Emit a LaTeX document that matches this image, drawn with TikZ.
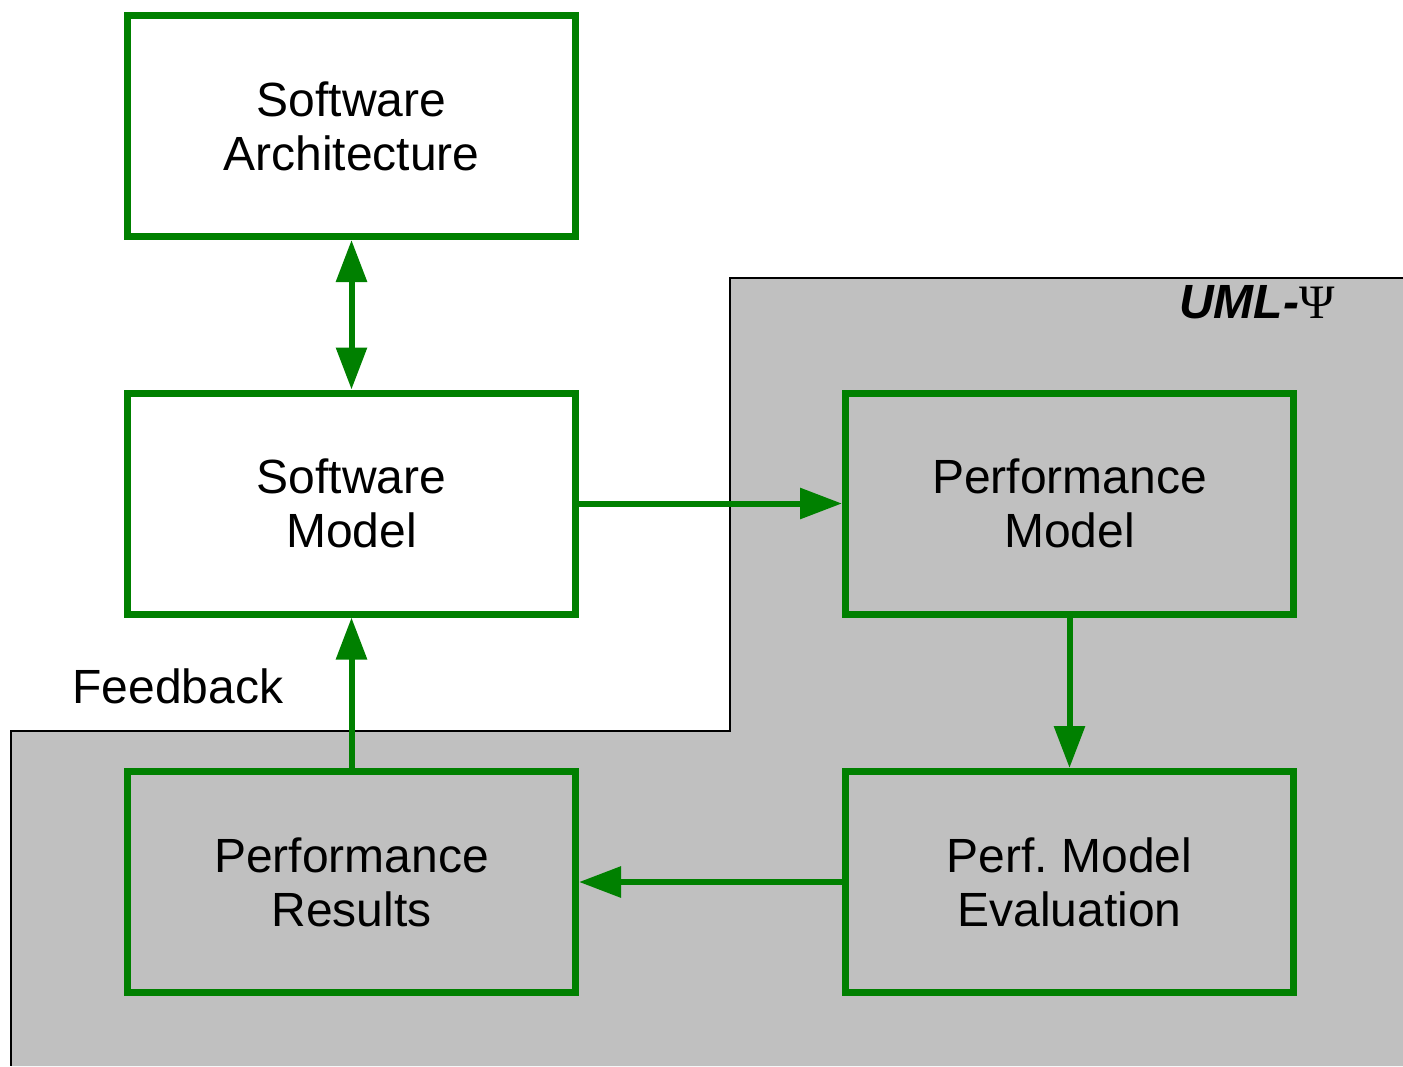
\documentclass[tikz,border=0pt]{standalone}
\usepackage{fontspec}
\setmainfont{Liberation Sans}
\newfontfamily\greekserif{Liberation Serif}
\usetikzlibrary{arrows.meta}
\definecolor{boxgreen}{RGB}{0,128,0}
\definecolor{regiongrey}{RGB}{192,192,192}
\frenchspacing
\tikzset{
  stagebox/.style={draw=boxgreen, line width=7pt, minimum width=448pt, minimum height=221pt,
    inner sep=0pt, align=center, font=\fontsize{48}{54}\selectfont},
  flow/.style={draw=boxgreen, line width=6pt, -{Triangle[width=30pt,length=42pt]}},
  twoway/.style={draw=boxgreen, line width=6pt, {Triangle[width=30pt,length=42pt]}-{Triangle[width=30pt,length=42pt]}},
}
\begin{document}
\begin{tikzpicture}[x=1pt,y=-1pt]
\useasboundingbox (0,0) rectangle (1403,1066);
% shaded region for the UML-Psi part of the process
\fill[regiongrey] (730,278) -- (1403,278) -- (1403,1066) -- (11,1066) -- (11,731) -- (730,731) -- cycle;
\draw[black, line width=1.5pt] (1403,278) -- (730,278) -- (730,731) -- (11,731) -- (11,1066);
\node[anchor=base east, font=\fontsize{48}{52}\selectfont\bfseries\itshape] (tool) at (1338,318)
  {UML-{\normalfont\greekserif Ψ}};

% stages
\node[stagebox, fill=white] (arch) at (351.5,126) {Software\\Architecture};
\node[stagebox, fill=white] (swm) at (351.5,503.5) {Software\\Model};
\node[stagebox] (pm) at (1069.5,503.5) {Performance\\Model};
\node[stagebox] (eval) at (1069.5,882) {Perf. Model\\Evaluation};
\node[stagebox] (res) at (351.5,882) {Performance\\Results};

% connectors
\draw[twoway] (arch.south) -- (swm.north);
\draw[flow] (swm.east) -- (pm.west);
\draw[flow] (pm.south) -- (eval.north);
\draw[flow] (eval.west) -- (res.east);
\draw[flow] (res.north) -- (swm.south);
\node[anchor=base west, font=\fontsize{48}{54}\selectfont] (fb) at (69,703) {Feedback};
\end{tikzpicture}
\end{document}
